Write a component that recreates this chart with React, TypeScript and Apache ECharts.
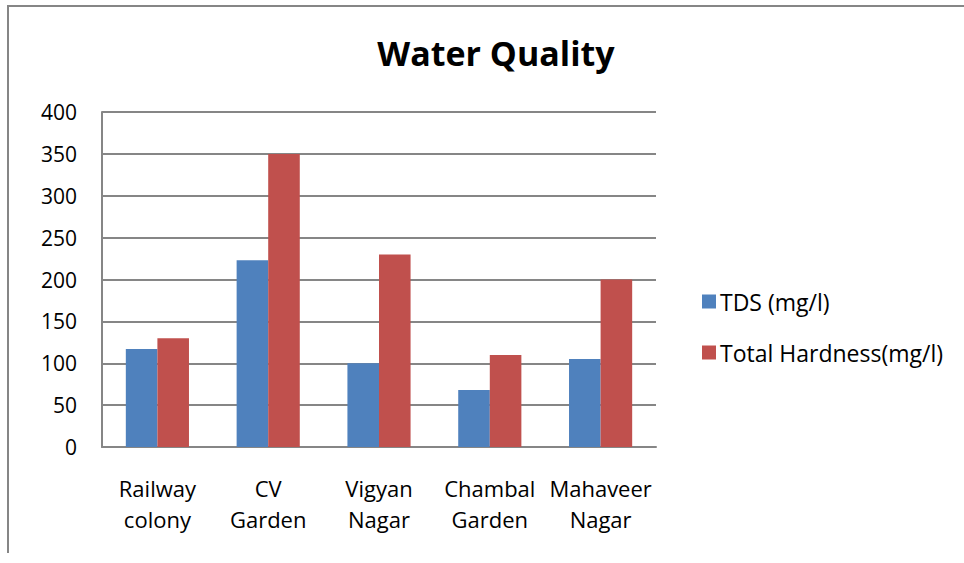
import React, { useEffect, useRef } from "react";
import * as echarts from "echarts";

const categories = ["Railway\ncolony", "CV\nGarden", "Vigyan\nNagar", "Chambal\nGarden", "Mahaveer\nNagar"];
const tdsValues = [117, 223, 100, 68, 105];
const hardnessValues = [130, 350, 230, 110, 200];
const seriesNames = ["TDS (mg/l)", "Total Hardness(mg/l)"];
const yTicks = { min: 0, max: 400, interval: 50 };

const FONT = "'Open Sans', Lato, sans-serif";

export default function App() {
  const ref = useRef<HTMLDivElement>(null);
  useEffect(() => {
    if (!ref.current) return;
    const chart = echarts.init(ref.current, undefined, { renderer: "svg" });
    chart.setOption({
      animation: false,
      backgroundColor: "#ffffff",
      textStyle: { fontFamily: FONT, color: "#000" },
      title: {
        text: "Water Quality",
        left: 491,
        top: 31,
        textAlign: "center",
        textStyle: { fontSize: 34, fontWeight: "bold", color: "#000", fontFamily: FONT },
      },
      graphic: [
        {
          type: "polyline",
          shape: { points: [[8, 553], [8, 6], [964, 6]] },
          style: { stroke: "#868686", lineWidth: 2, fill: "none" },
          silent: true,
        },
      ],
      grid: { left: 102, right: 308, top: 112, bottom: 116, containLabel: false },
      legend: {
        orient: "vertical",
        left: 697,
        top: 285,
        itemWidth: 14,
        itemHeight: 14,
        itemGap: 28,
        icon: "rect",
        textStyle: { fontSize: 23, color: "#000", fontFamily: FONT, padding: [0, 0, 0, -1] },
        data: seriesNames,
      },
      xAxis: {
        type: "category",
        data: categories,
        axisLine: { lineStyle: { color: "#868686", width: 2 } },
        axisTick: { show: false },
        axisLabel: { fontSize: 22, color: "#000", lineHeight: 31, margin: 25, interval: 0, fontFamily: FONT },
      },
      yAxis: {
        type: "value",
        min: yTicks.min,
        max: yTicks.max,
        interval: yTicks.interval,
        axisLine: { show: true, lineStyle: { color: "#868686", width: 2 } },
        axisTick: { show: false },
        axisLabel: { fontSize: 21, color: "#000", margin: 25, fontFamily: FONT },
        splitLine: { lineStyle: { color: "#868686", width: 2 } },
      },
      series: [
        {
          name: seriesNames[0],
          type: "bar",
          data: tdsValues,
          barGap: "0%",
          barCategoryGap: "43%",
          itemStyle: { color: "#4F81BD" },
        },
        {
          name: seriesNames[1],
          type: "bar",
          data: hardnessValues,
          barGap: "0%",
          barCategoryGap: "43%",
          itemStyle: { color: "#C0504D" },
        },
      ],
    });
    return () => chart.dispose();
  }, []);
  return (
    <div
      ref={ref}
      style={{ position: "fixed", left: 0, top: 0, width: 964, height: 563, background: "#fff" }}
    />
  );
}
